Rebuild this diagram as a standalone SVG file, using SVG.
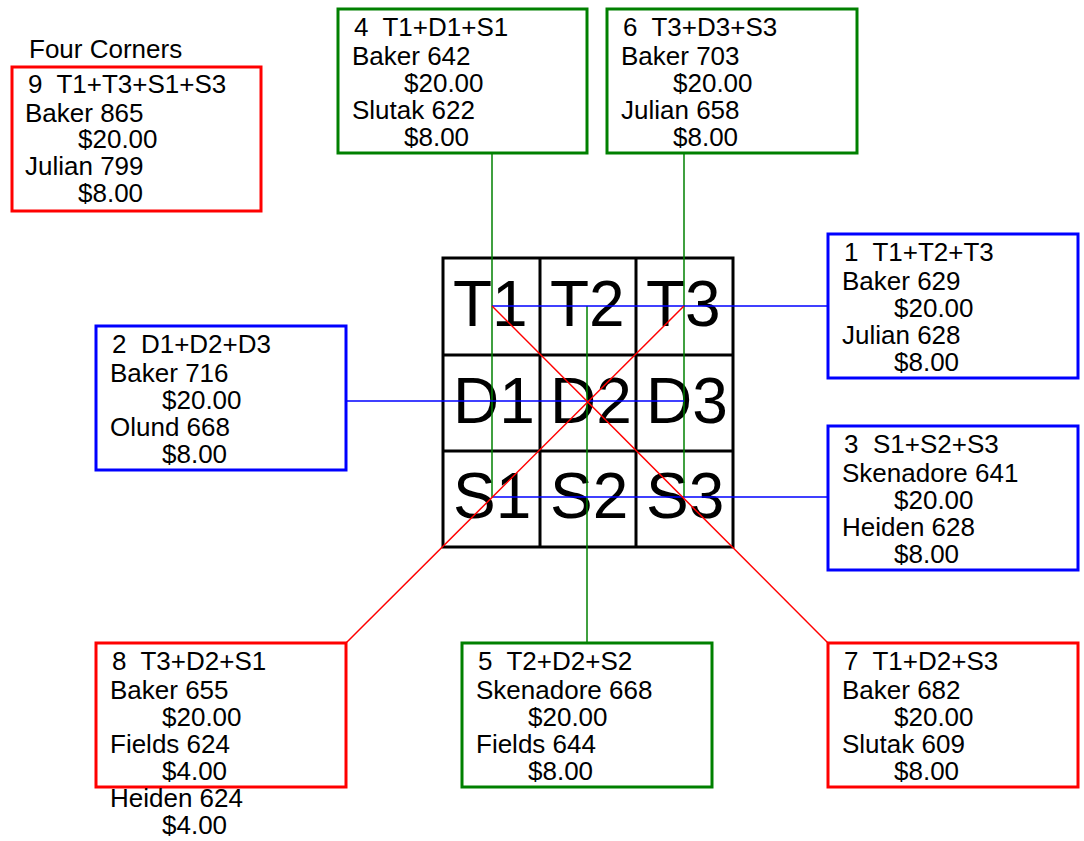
<svg xmlns="http://www.w3.org/2000/svg" width="1084" height="841" viewBox="0 0 1084 841">
<style>
text{font-family:"Liberation Sans",Arial,sans-serif;font-size:26px;fill:#000;white-space:pre}
.big{font-size:64px}
.box{fill:#fff;stroke-width:3}
.r{stroke:#ff0000}.g{stroke:#008000}.b{stroke:#0000ff}
.cell{fill:none;stroke:#000;stroke-width:3}
#connectors line{stroke-width:1.5}
</style>
<rect width="1084" height="841" fill="#fff"/>
<text x="29" y="58">Four Corners</text>
<g id="grid">
<rect class="cell" x="443" y="258" width="290" height="289"/>
<line class="cell" x1="540" y1="258" x2="540" y2="547"/>
<line class="cell" x1="636" y1="258" x2="636" y2="547"/>
<line class="cell" x1="443" y1="355" x2="733" y2="355"/>
<line class="cell" x1="443" y1="451" x2="733" y2="451"/>
<text class="big" x="453" y="326">T1</text>
<text class="big" x="550" y="326">T2</text>
<text class="big" x="646" y="326">T3</text>
<text class="big" x="453" y="423">D1</text>
<text class="big" x="550" y="423">D2</text>
<text class="big" x="646" y="423">D3</text>
<text class="big" x="453" y="518">S1</text>
<text class="big" x="550" y="518">S2</text>
<text class="big" x="646" y="518">S3</text>
</g>
<g id="connectors">
<line class="g" x1="492" y1="153" x2="492" y2="497"/>
<line class="g" x1="684" y1="153" x2="684" y2="497"/>
<line class="g" x1="587" y1="643" x2="587" y2="306"/>
<line class="b" x1="492" y1="306" x2="828" y2="306"/>
<line class="b" x1="492" y1="497" x2="828" y2="497"/>
<line class="b" x1="346" y1="401" x2="684" y2="401"/>
<line class="r" x1="492" y1="306" x2="828" y2="643"/>
<line class="r" x1="684" y1="306" x2="346" y2="643"/>
</g>
<g id="n9">
<rect class="box r" x="12" y="67" width="249" height="144"/>
<text x="28" y="93">9  T1+T3+S1+S3</text>
<text x="25" y="122">Baker 865</text>
<text x="78" y="148">$20.00</text>
<text x="25" y="175">Julian 799</text>
<text x="78" y="202">$8.00</text>
</g>
<g id="n4">
<rect class="box g" x="338" y="9" width="249" height="144"/>
<text x="354" y="36">4  T1+D1+S1</text>
<text x="352" y="65">Baker 642</text>
<text x="404" y="92">$20.00</text>
<text x="352" y="119">Slutak 622</text>
<text x="404" y="146">$8.00</text>
</g>
<g id="n6">
<rect class="box g" x="607" y="9" width="250" height="144"/>
<text x="623" y="36">6  T3+D3+S3</text>
<text x="621" y="65">Baker 703</text>
<text x="673" y="92">$20.00</text>
<text x="621" y="119">Julian 658</text>
<text x="673" y="146">$8.00</text>
</g>
<g id="n1">
<rect class="box b" x="828" y="234" width="250" height="144"/>
<text x="844" y="261">1  T1+T2+T3</text>
<text x="842" y="290">Baker 629</text>
<text x="894" y="317">$20.00</text>
<text x="842" y="344">Julian 628</text>
<text x="894" y="371">$8.00</text>
</g>
<g id="n2">
<rect class="box b" x="96" y="326" width="250" height="144"/>
<text x="112" y="353">2  D1+D2+D3</text>
<text x="110" y="382">Baker 716</text>
<text x="162" y="409">$20.00</text>
<text x="110" y="436">Olund 668</text>
<text x="162" y="463">$8.00</text>
</g>
<g id="n3">
<rect class="box b" x="828" y="426" width="250" height="144"/>
<text x="844" y="453">3  S1+S2+S3</text>
<text x="842" y="482">Skenadore 641</text>
<text x="894" y="509">$20.00</text>
<text x="842" y="536">Heiden 628</text>
<text x="894" y="563">$8.00</text>
</g>
<g id="n8">
<rect class="box r" x="96" y="643" width="250" height="144"/>
<text x="112" y="670">8  T3+D2+S1</text>
<text x="110" y="699">Baker 655</text>
<text x="162" y="726">$20.00</text>
<text x="110" y="753">Fields 624</text>
<text x="162" y="780">$4.00</text>
<text x="110" y="807">Heiden 624</text>
<text x="162" y="834">$4.00</text>
</g>
<g id="n5">
<rect class="box g" x="462" y="643" width="250" height="144"/>
<text x="478" y="670">5  T2+D2+S2</text>
<text x="476" y="699">Skenadore 668</text>
<text x="528" y="726">$20.00</text>
<text x="476" y="753">Fields 644</text>
<text x="528" y="780">$8.00</text>
</g>
<g id="n7">
<rect class="box r" x="828" y="643" width="250" height="144"/>
<text x="844" y="670">7  T1+D2+S3</text>
<text x="842" y="699">Baker 682</text>
<text x="894" y="726">$20.00</text>
<text x="842" y="753">Slutak 609</text>
<text x="894" y="780">$8.00</text>
</g>
</svg>
